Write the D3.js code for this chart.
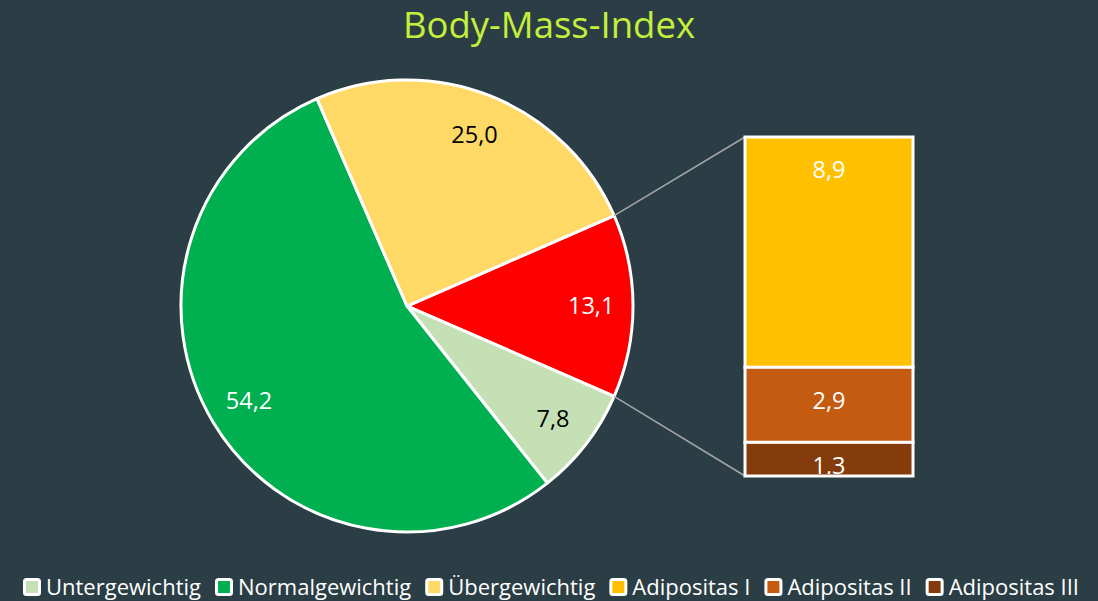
<!DOCTYPE html>
<html>
<head>
<meta charset="utf-8">
<title>Body-Mass-Index</title>
<style>
body { margin: 0; background: #2b3e45; }
svg { display: block; font-family: "Open Sans", "Noto Sans", sans-serif; }
</style>
</head>
<body>
<svg id="chart" width="1098" height="601"></svg>
<script src="https://d3js.org/d3.v7.min.js"></script>
<script>

// pie slices (the last one is split into the bar)
var pieLabels = ["Untergewichtig", "Normalgewichtig", "Übergewichtig", "Adipositas"];
var pieValues = [7.8, 54.2, 25.0, 13.1];
var pieColors = ["#c5e0b4", "#00b050", "#ffd966", "#ff0000"];
var pieTextColors = ["#000", "#fff", "#000", "#fff"];

// the bar, top to bottom
var barLabels = ["Adipositas I", "Adipositas II", "Adipositas III"];
var barValues = [8.9, 2.9, 1.3];
var barColors = ["#ffc000", "#c55a11", "#843c0c"];

var legendLabels = ["Untergewichtig", "Normalgewichtig", "Übergewichtig", "Adipositas I", "Adipositas II", "Adipositas III"];
var legendColors = ["#c5e0b4", "#00b050", "#ffd966", "#ffc000", "#c55a11", "#843c0c"];

var fmt = function(v) { return d3.format(".1f")(v).replace(".", ","); };

var svg = d3.select("#chart"),
    W = +svg.attr("width"),
    cx = 407, cy = 306, r = 226;

svg.append("rect").attr("width", W).attr("height", 601).attr("fill", "#2b3e45");

svg.append("text")
    .attr("x", W / 2).attr("y", 38)
    .attr("text-anchor", "middle")
    .attr("font-size", 36.5)
    .attr("fill", "#c4ef3a")
    .text("Body-Mass-Index");

// red slice is centred on the right (90deg), rest follows clockwise
var otherAngle = pieValues[3] / d3.sum(pieValues) * 2 * Math.PI;
var start = Math.PI / 2 - otherAngle / 2;

var pie = d3.pie().sort(null).startAngle(start).endAngle(start + 2 * Math.PI);
// red slice first so it starts at 90 - half
var arcs = pie(pieValues.slice(3).concat(pieValues.slice(0, 3)));
var order = [3, 0, 1, 2];

var arc = d3.arc().innerRadius(0).outerRadius(r);
var labelArc = d3.arc().innerRadius(r * 0.815).outerRadius(r * 0.815);

var gPie = svg.append("g").attr("transform", "translate(" + cx + "," + cy + ")");

gPie.selectAll("path")
  .data(arcs)
  .enter().append("path")
    .attr("d", arc)
    .attr("fill", function(d, i) { return pieColors[order[i]]; })
    .attr("stroke", "#fff")
    .attr("stroke-width", 3)
    .attr("stroke-linejoin", "round");

gPie.selectAll("text")
  .data(arcs)
  .enter().append("text")
    .attr("transform", function(d) {
      var c = labelArc.centroid(d);
      return "translate(" + c[0] + "," + c[1] + ")";
    })
    .attr("text-anchor", "middle")
    .attr("dy", "0.35em")
    .attr("font-size", 23.5)
    .attr("fill", function(d, i) { return pieTextColors[order[i]]; })
    .text(function(d) { return fmt(d.value); });

// bar of pie
var barX = 745, barW = 168;
var y = d3.scaleLinear().domain([0, d3.sum(barValues)]).range([137, 476]);
var stack = [], acc = 0;
barValues.forEach(function(v, i) { stack.push({ v: v, y0: acc, y1: acc + v, i: i }); acc += v; });

// connector lines
var redArc = arcs[0];
[[redArc.startAngle, y(0)], [redArc.endAngle, y(acc)]].forEach(function(p) {
  svg.append("line")
    .attr("x1", cx + r * Math.sin(p[0]))
    .attr("y1", cy - r * Math.cos(p[0]))
    .attr("x2", barX)
    .attr("y2", p[1])
    .attr("stroke", "#a6a6a6")
    .attr("stroke-width", 1.5);
});

svg.append("clipPath").attr("id", "barclip")
  .append("rect").attr("x", barX).attr("y", y(0)).attr("width", barW).attr("height", y(acc) - y(0) - 2);

var gBar = svg.append("g");
gBar.selectAll("rect")
  .data(stack)
  .enter().append("rect")
    .attr("x", barX)
    .attr("y", function(d) { return y(d.y0); })
    .attr("width", barW)
    .attr("height", function(d) { return y(d.y1) - y(d.y0); })
    .attr("fill", function(d) { return barColors[d.i]; })
    .attr("stroke", "#fff")
    .attr("stroke-width", 3);

gBar.append("g").attr("clip-path", "url(#barclip)")
  .selectAll("text")
  .data(stack)
  .enter().append("text")
    .attr("x", barX + barW / 2)
    .attr("y", function(d) {
      var h = y(d.y1) - y(d.y0);
      return y(d.y0) + Math.min(33, h / 2 + 7);
    })
    .attr("dy", "0.35em")
    .attr("text-anchor", "middle")
    .attr("font-size", 23.5)
    .attr("fill", "#fff")
    .text(function(d) { return fmt(d.v); });

// legend
var legend = svg.append("g");
var x0 = 0;
legendLabels.forEach(function(name, i) {
  var item = legend.append("g").attr("transform", "translate(" + x0 + ",0)");
  item.append("rect")
    .attr("x", 1.5).attr("y", 579.5)
    .attr("width", 15).attr("height", 15)
    .attr("rx", 2)
    .attr("fill", legendColors[i])
    .attr("stroke", "#fff")
    .attr("stroke-width", 3);
  var t = item.append("text")
    .attr("x", 23).attr("y", 595)
    .attr("font-size", 22)
    .attr("fill", "#fff")
    .text(name);
  x0 += 23 + t.node().getComputedTextLength() + 14;
});
x0 -= 14;
legend.attr("transform", "translate(" + ((W - x0) / 2 + 2) + ",0)");

</script>
</body>
</html>
